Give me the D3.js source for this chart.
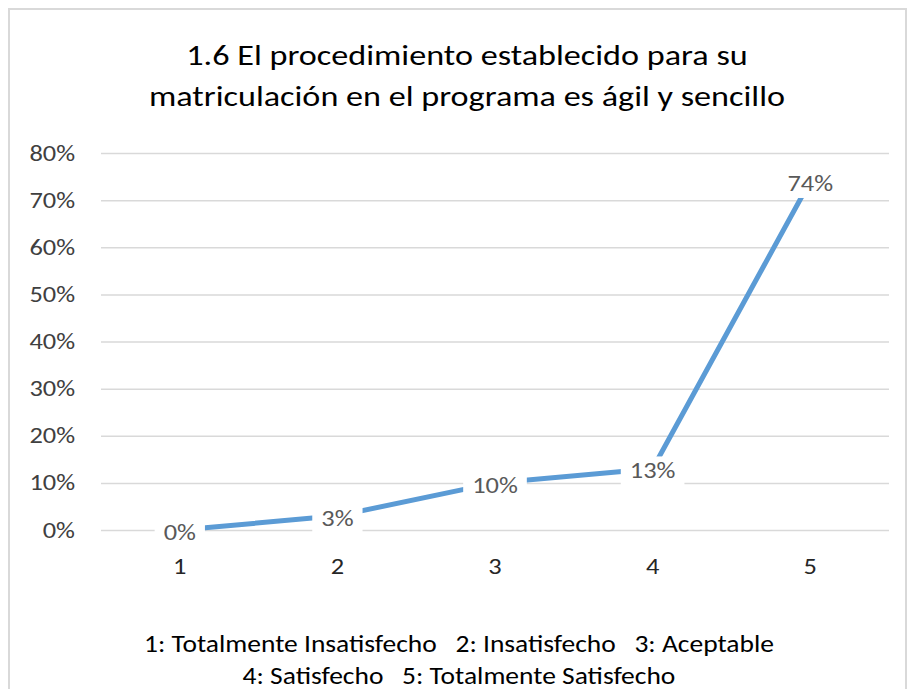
<!DOCTYPE html>
<html>
<head>
<meta charset="utf-8">
<script src="https://cdn.jsdelivr.net/npm/d3@7"></script>
<style>
  body { margin: 0; background: #fff; }
  text { font-family: Carlito, Calibri, Lato, "Open Sans", sans-serif; }
</style>
</head>
<body>
<svg id="chart" width="910" height="689"></svg>
<script>
var categories = ['1', '2', '3', '4', '5'];
var values = [0, 0.03, 0.10, 0.13, 0.74];
var yTicks = [0, 0.1, 0.2, 0.3, 0.4, 0.5, 0.6, 0.7, 0.8];
var titleLines = ['1.6 El procedimiento establecido para su',
                  'matriculación en el programa es ágil y sencillo'];
var legendLines = ['1: Totalmente Insatisfecho   2: Insatisfecho   3: Aceptable',
                   '4: Satisfecho   5: Totalmente Satisfecho'];

var W = 910, H = 689;
var svg = d3.select('#chart');

// the source font is a bit wider than Lato, so widen glyphs a little
function stretch(sel, sx) {
  sel.each(function() {
    var L = this.getComputedTextLength();
    d3.select(this)
      .attr('textLength', L * sx)
      .attr('lengthAdjust', 'spacingAndGlyphs');
  });
}

// chart frame
svg.append('rect')
  .attr('x', 9).attr('y', 9)
  .attr('width', 897).attr('height', 700)
  .attr('fill', '#fff')
  .attr('stroke', '#d9d9d9')
  .attr('stroke-width', 2);

var x = d3.scaleBand().domain(categories).range([101, 889]);
var y = d3.scaleLinear().domain([0, 0.8]).range([530, 153]);

// title
svg.append('g').selectAll('text')
  .data(titleLines)
  .enter().append('text')
  .attr('x', 467)
  .attr('y', function(d, i) { return 65 + i * 41; })
  .attr('text-anchor', 'middle')
  .attr('font-size', 28)
  .attr('fill', '#000')
  .text(function(d) { return d; })
  .call(stretch, 1.22);

// gridlines + y labels
var yAxis = d3.axisLeft(y)
  .tickValues(yTicks)
  .tickSize(-(889 - 101))
  .tickPadding(26)
  .tickFormat(d3.format('.0%'));

var gy = svg.append('g')
  .attr('transform', 'translate(101,0)')
  .call(yAxis);
gy.select('.domain').remove();
gy.selectAll('.tick line').attr('stroke', '#d9d9d9').attr('stroke-width', 1.5);
gy.selectAll('.tick text')
  .attr('font-size', 22)
  .attr('fill', '#404040')
  .attr('font-family', null)
  .call(stretch, 1.2);

// x labels
var xAxis = d3.axisBottom(x).tickSize(0).tickPadding(28);
var gx = svg.append('g')
  .attr('transform', 'translate(0,530)')
  .call(xAxis);
gx.select('.domain').remove();
gx.selectAll('.tick text')
  .attr('font-size', 22)
  .attr('fill', '#262626')
  .attr('font-family', null)
  .call(stretch, 1.2);

// the line
var pts = categories.map(function(c, i) {
  return { c: c, v: values[i] };
});
var line = d3.line()
  .x(function(d) { return x(d.c) + x.bandwidth() / 2; })
  .y(function(d) { return y(d.v); });

svg.append('path')
  .datum(pts)
  .attr('d', line)
  .attr('fill', 'none')
  .attr('stroke', '#5b9bd5')
  .attr('stroke-width', 5)
  .attr('stroke-linejoin', 'round');

// data labels, white box over the line
var lab = svg.append('g').selectAll('g')
  .data(pts)
  .enter().append('g')
  .attr('transform', function(d) {
    return 'translate(' + (x(d.c) + x.bandwidth() / 2) + ',' + (y(d.v) + 2) + ')';
  });

lab.append('text')
  .attr('text-anchor', 'middle')
  .attr('dy', '0.35em')
  .attr('font-size', 22)
  .attr('fill', '#595959')
  .text(function(d) { return d3.format('.0%')(d.v); })
  .call(stretch, 1.2);

lab.each(function() {
  var g = d3.select(this);
  var t = g.select('text');
  var bb = t.node().getBBox();
  var w = +t.attr('textLength');
  g.insert('rect', 'text')
    .attr('x', -w / 2 - 9)
    .attr('y', bb.y - 1)
    .attr('width', w + 18)
    .attr('height', bb.height + 2)
    .attr('fill', '#fff');
});

// category legend under the axis
svg.append('g').selectAll('text')
  .data(legendLines)
  .enter().append('text')
  .attr('x', 459)
  .attr('y', function(d, i) { return 652 + i * 32; })
  .attr('text-anchor', 'middle')
  .attr('font-size', 23.5)
  .attr('fill', '#000')
  .style('white-space', 'pre')
  .text(function(d) { return d; })
  .call(stretch, 1.17);
</script>
</body>
</html>
